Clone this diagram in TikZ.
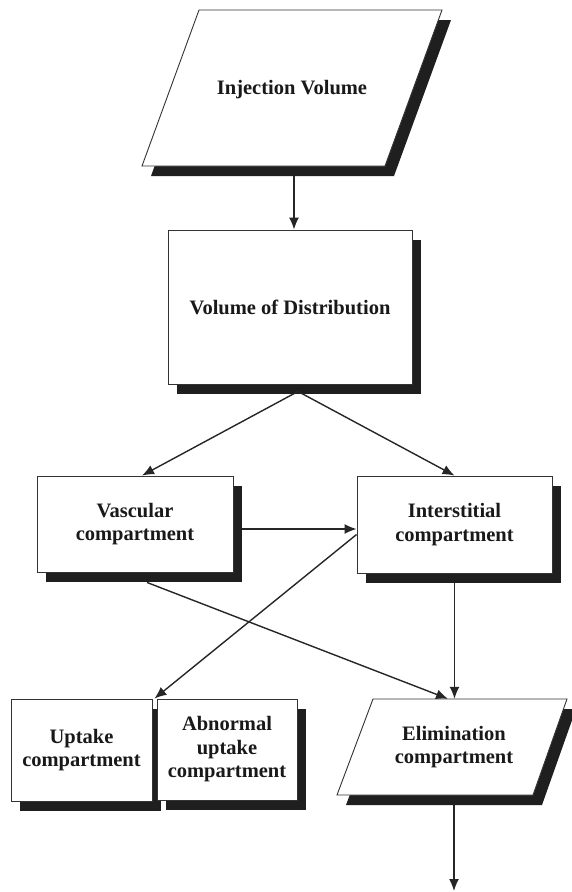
\documentclass[tikz,border=0pt]{standalone}
\usepackage{fontspec}
\setmainfont{Liberation Serif}
\usetikzlibrary{arrows.meta,calc,shadows}

\tikzset{
  diagram/.style={x=1pt,y=-1pt},
  label text/.style={font=\bfseries\fontsize{20.5}{23.5}\selectfont, align=center, text=black!90, inner sep=0pt},
  box/.style={label text, draw=black!80, line width=0.9pt, fill=white,
    drop shadow={shadow xshift=9pt, shadow yshift=-10pt, fill=black!88, opacity=1}},
  slab/.style={draw=black!80, line width=0.9pt, fill=white},
  slab shadow/.style={fill=black!88, shift={(9,10)}},
  link/.style={draw=black!85, line width=1.4pt, -{Latex[length=12pt,width=10pt]}},
}

\begin{document}
\begin{tikzpicture}[diagram]
\useasboundingbox (0,0) rectangle (571,892);

% slanted input block
\fill[slab shadow] (199,10) -- (442,10) -- (385,166) -- (142,166) -- cycle;
\draw[slab] (199,10) -- (442,10) -- (385,166) -- (142,166) -- cycle;
\node[label text, minimum height=156pt] (inj) at (292,90) {Injection Volume};

% rectangular compartments
\node[box, minimum width=244pt, minimum height=154pt] (vod) at (290,307) {Volume of Distribution};
\node[box, minimum width=196pt, minimum height=96pt] (vasc) at (135,524) {Vascular\\compartment};
\node[box, minimum width=195pt, minimum height=97pt] (inter) at (454.5,524.5) {Interstitial\\compartment};
\node[box, minimum width=141pt, minimum height=102pt] (upt) at (81.5,750) {Uptake\\compartment};
\node[box, minimum width=140pt, minimum height=101pt] (abn) at (227,749.5) {Abnormal\\uptake\\compartment};

% slanted output block
\fill[slab shadow] (373,699) -- (567,699) -- (533,795) -- (337,795) -- cycle;
\draw[slab] (373,699) -- (567,699) -- (533,795) -- (337,795) -- cycle;
\node[label text, minimum height=96pt] (elim) at (454,747) {Elimination\\compartment};

% connectors (leaving from the bottom of the shadows)
\coordinate (inj-base) at ($(inj.south)+(2,8)$);
\draw[link] (inj-base) -- (inj-base |- vod.north);

\coordinate (vod-base) at ($(vod.south)+(8,7)$);
\draw[link] (vod-base) -- ($(vasc.north)+(7,0)$);
\draw[link] (vod-base) -- (inter.north);

\coordinate (vasc-out) at ($(vasc.east)+(9,5)$);
\draw[link] (vasc-out) -- (vasc-out -| inter.west);

\draw[link] ($(inter.west)+(0,10)$) -- ($(upt.north east)+(2,0)$);
\draw[link] ($(vasc.south)+(12,10)$) -- ($(elim.north)+(-6,0)$);

\coordinate (inter-out) at ($(inter.south)+(0,10)$);
\draw[link] (inter-out) -- (inter-out |- elim.north);

\coordinate (elim-out) at ($(elim.south)+(0,10)$);
\coordinate (exit) at (454,891);
\draw[link] (elim-out) -- (exit);
\end{tikzpicture}
\end{document}
